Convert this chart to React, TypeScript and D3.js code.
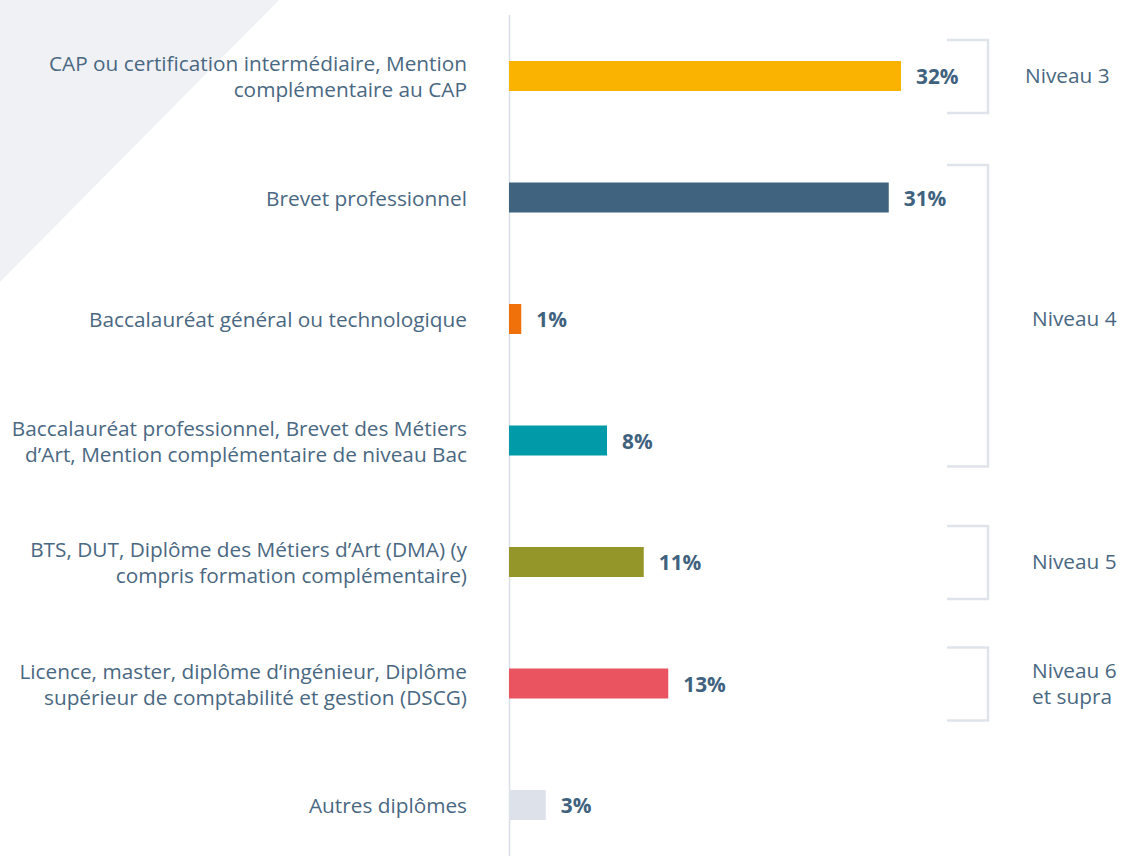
import React from "react";
import * as d3 from "d3";

const categories: string[][] = [
  ["CAP ou certification intermédiaire, Mention", "complémentaire au CAP"],
  ["Brevet professionnel"],
  ["Baccalauréat général ou technologique"],
  ["Baccalauréat professionnel, Brevet des Métiers", "d’Art, Mention complémentaire de niveau Bac"],
  ["BTS, DUT, Diplôme des Métiers d’Art (DMA) (y", "compris formation complémentaire)"],
  ["Licence, master, diplôme d’ingénieur, Diplôme", "supérieur de comptabilité et gestion (DSCG)"],
  ["Autres diplômes"],
];
const values: number[] = [32, 31, 1, 8, 11, 13, 3];
const colors: string[] = ["#f9b300", "#40647f", "#f0700a", "#009aa8", "#95962a", "#ea5461", "#dde2ea"];

const groupLabels: string[][] = [["Niveau 3"], ["Niveau 4"], ["Niveau 5"], ["Niveau 6", "et supra"]];
const groupStart: number[] = [0, 1, 4, 5];
const groupEnd: number[] = [0, 3, 4, 5];

const W = 1122;
const H = 856;

export default function App() {
  const x = d3.scaleLinear().domain([0, 32]).range([509, 901]);
  const y = d3.scalePoint<number>().domain(d3.range(values.length)).range([76, 76 + 121.5 * (values.length - 1)]);
  const cy = (i: number) => y(i) as number;
  const barH = 30;
  const textColor = "#4a6882";
  const valueColor = "#40627f";
  const font = "'Open Sans', 'Noto Sans', sans-serif";
  const fs = 20.8;

  return (
    <svg
      width={W}
      height={H}
      style={{ position: "absolute", left: 0, top: 0, display: "block" }}
      fontFamily={font}
    >
      <polygon points="0,0 279,0 0,282" fill="#eff1f5" />
      <line x1={509.5} x2={509.5} y1={15} y2={H} stroke="#d9dee7" strokeWidth={1.5} />
      {values.map((v, i) => (
        <g key={i}>
          <rect x={x(0)} y={cy(i) - barH / 2} width={x(v) - x(0)} height={barH} fill={colors[i]} />
          <text
            x={x(v) + 15}
            y={cy(i)}
            dominantBaseline="central"
            fontSize={fs}
            fontWeight={700}
            fill={valueColor}
          >
            {v}%
          </text>
          {categories[i].map((line, k) => (
            <text
              key={k}
              x={467}
              y={cy(i) + (k - (categories[i].length - 1) / 2) * 26}
              textAnchor="end"
              dominantBaseline="central"
              fontSize={fs}
              fill={textColor}
            >
              {line}
            </text>
          ))}
        </g>
      ))}
      {groupLabels.map((lab, g) => {
        const single = groupStart[g] === groupEnd[g];
        const top = cy(groupStart[g]) - (single ? 36 : 32.5);
        const bottom = cy(groupEnd[g]) + (single ? 37 : 26);
        const mid = (cy(groupStart[g]) + cy(groupEnd[g])) / 2;
        const tx = g === 0 ? 1025 : 1032;
        return (
          <g key={g}>
            <path
              d={`M947,${top}H988V${bottom}H947`}
              fill="none"
              stroke="#dfe3ea"
              strokeWidth={2.5}
            />
            {lab.map((line, k) => (
              <text
                key={k}
                x={tx}
                y={mid - 1 + (k - (lab.length - 1) / 2) * 26}
                dominantBaseline="central"
                fontSize={fs}
                fill={textColor}
              >
                {line}
              </text>
            ))}
          </g>
        );
      })}
    </svg>
  );
}
